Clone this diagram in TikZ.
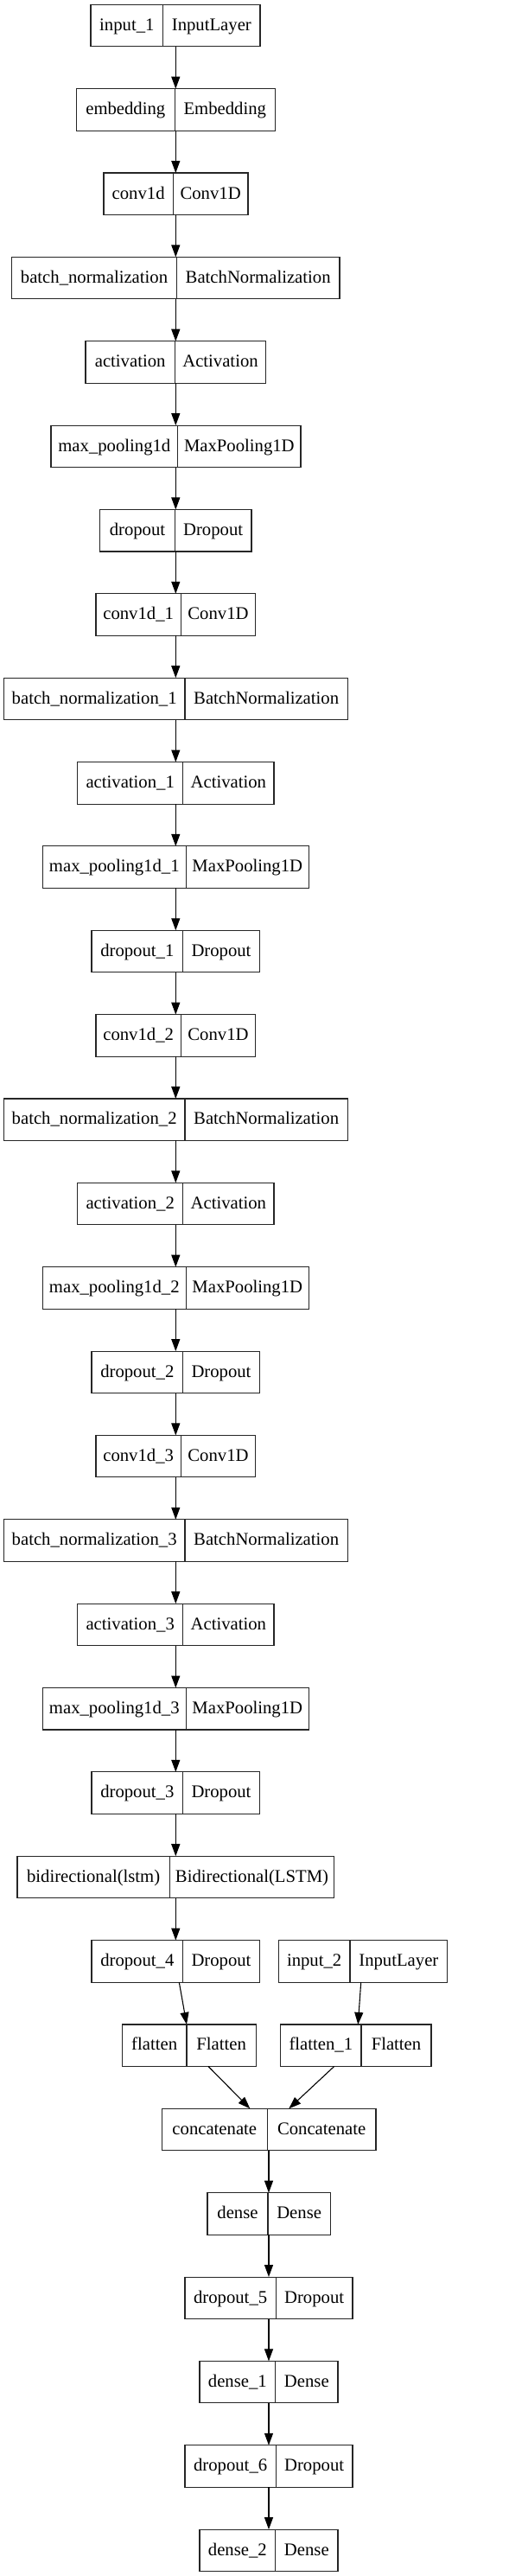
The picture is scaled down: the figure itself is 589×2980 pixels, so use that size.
\documentclass[tikz,border=0pt]{standalone}
\usepackage{fontspec}
\setmainfont{Liberation Serif}
\usetikzlibrary{arrows.meta}
\newcommand\nnlayer[7]{%
  \pgfmathsetmacro\ytop{5.3+97.36*#2}%
  \node[box, minimum width={#5-#3}] (#1) at ({(#3+#5)/2},{\ytop+24.25}) {};
  \draw[boxline] (#4,\ytop) -- (#4,{\ytop+48.5});
  \node[lbl] (#1-a) at ({(#3+#4)/2},{\ytop+30}) {#6};
  \node[lbl] (#1-b) at ({(#4+#5)/2},{\ytop+30}) {#7};
}
\begin{document}
\begin{tikzpicture}[x=1pt,y=-1pt,
  box/.style={draw=black!85, line width=1.1pt, inner sep=0pt, outer sep=0pt, minimum height=48.5pt, rectangle},
  boxline/.style={draw=black!85, line width=1.1pt},
  lbl/.style={font=\fontsize{20.7}{24}\selectfont, anchor=base, inner sep=0pt},
  arr/.style={draw=black, line width=1.1pt, -{Triangle[length=14pt,width=10pt]}}]
\fill[white] (0,0) rectangle (589,2980);
\useasboundingbox (0,0) rectangle (589,2980);
\coordinate (cA) at (203.3,0);
\coordinate (cB) at (311,0);
\nnlayer{r0}{0}{105}{188.7}{301}{input\_1}{InputLayer}
\nnlayer{r1}{1}{88.3}{202.3}{318.3}{embedding}{Embedding}
\nnlayer{r2}{2}{120}{200.3}{287}{conv1d}{Conv1D}
\nnlayer{r3}{3}{13.7}{204.3}{393}{batch\_normalization}{BatchNormalization}
\nnlayer{r4}{4}{99}{202.3}{307.7}{activation}{Activation}
\nnlayer{r5}{5}{59}{205.7}{348}{max\_pooling1d}{MaxPooling1D}
\nnlayer{r6}{6}{115.7}{202.3}{291}{dropout}{Dropout}
\nnlayer{r7}{7}{111}{209.3}{295.7}{conv1d\_1}{Conv1D}
\nnlayer{r8}{8}{4.3}{214}{402.3}{batch\_normalization\_1}{BatchNormalization}
\nnlayer{r9}{9}{89.7}{211.7}{317}{activation\_1}{Activation}
\nnlayer{r10}{10}{49.3}{215.3}{357.3}{max\_pooling1d\_1}{MaxPooling1D}
\nnlayer{r11}{11}{106}{211.7}{300.3}{dropout\_1}{Dropout}
\nnlayer{r12}{12}{111}{209.3}{295.7}{conv1d\_2}{Conv1D}
\nnlayer{r13}{13}{4.3}{214}{402.3}{batch\_normalization\_2}{BatchNormalization}
\nnlayer{r14}{14}{89.7}{211.7}{317}{activation\_2}{Activation}
\nnlayer{r15}{15}{49.3}{215.3}{357.3}{max\_pooling1d\_2}{MaxPooling1D}
\nnlayer{r16}{16}{106}{211.7}{300.3}{dropout\_2}{Dropout}
\nnlayer{r17}{17}{111}{209.3}{295.7}{conv1d\_3}{Conv1D}
\nnlayer{r18}{18}{4.3}{214}{402.3}{batch\_normalization\_3}{BatchNormalization}
\nnlayer{r19}{19}{89.7}{211.7}{317}{activation\_3}{Activation}
\nnlayer{r20}{20}{49.3}{215.3}{357.3}{max\_pooling1d\_3}{MaxPooling1D}
\nnlayer{r21}{21}{106}{211.7}{300.3}{dropout\_3}{Dropout}
\nnlayer{r22}{22}{20}{196.3}{386.7}{bidirectional(lstm)}{Bidirectional(LSTM)}
\nnlayer{r23}{23}{106}{211.7}{300.3}{dropout\_4}{Dropout}
\nnlayer{s23}{23}{322.3}{405}{517.7}{input\_2}{InputLayer}
\nnlayer{r24}{24}{141.3}{216}{296.3}{flatten}{Flatten}
\nnlayer{s24}{24}{324.7}{418}{499}{flatten\_1}{Flatten}
\nnlayer{r25}{25}{187.3}{309.3}{435}{concatenate}{Concatenate}
\nnlayer{r26}{26}{240}{310}{382.3}{dense}{Dense}
\nnlayer{r27}{27}{214}{319.3}{408}{dropout\_5}{Dropout}
\nnlayer{r28}{28}{231}{318.7}{391}{dense\_1}{Dense}
\nnlayer{r29}{29}{214}{319.3}{408}{dropout\_6}{Dropout}
\nnlayer{r30}{30}{231}{318.7}{391}{dense\_2}{Dense}
\foreach \i [evaluate=\i as \j using int(\i+1)] in {0,...,22}
  \draw[arr] (r\i.south -| cA) -- (r\j.north -| cA);
\coordinate (d1) at (207.3,0); \coordinate (d2) at (216,0);
\coordinate (d3) at (417.7,0); \coordinate (d4) at (414.3,0);
\coordinate (d5) at (241,0); \coordinate (d6) at (289.3,0);
\coordinate (d7) at (386.7,0); \coordinate (d8) at (334.3,0);
\draw[arr] (r23.south -| d1) -- (r24.north -| d2);
\draw[arr] (s23.south -| d3) -- (s24.north -| d4);
\draw[arr] (r24.south -| d5) -- (r25.north -| d6);
\draw[arr] (s24.south -| d7) -- (r25.north -| d8);
\foreach \i [evaluate=\i as \j using int(\i+1)] in {25,...,29}
  \draw[arr] (r\i.south -| cB) -- (r\j.north -| cB);
\end{tikzpicture}
\end{document}
